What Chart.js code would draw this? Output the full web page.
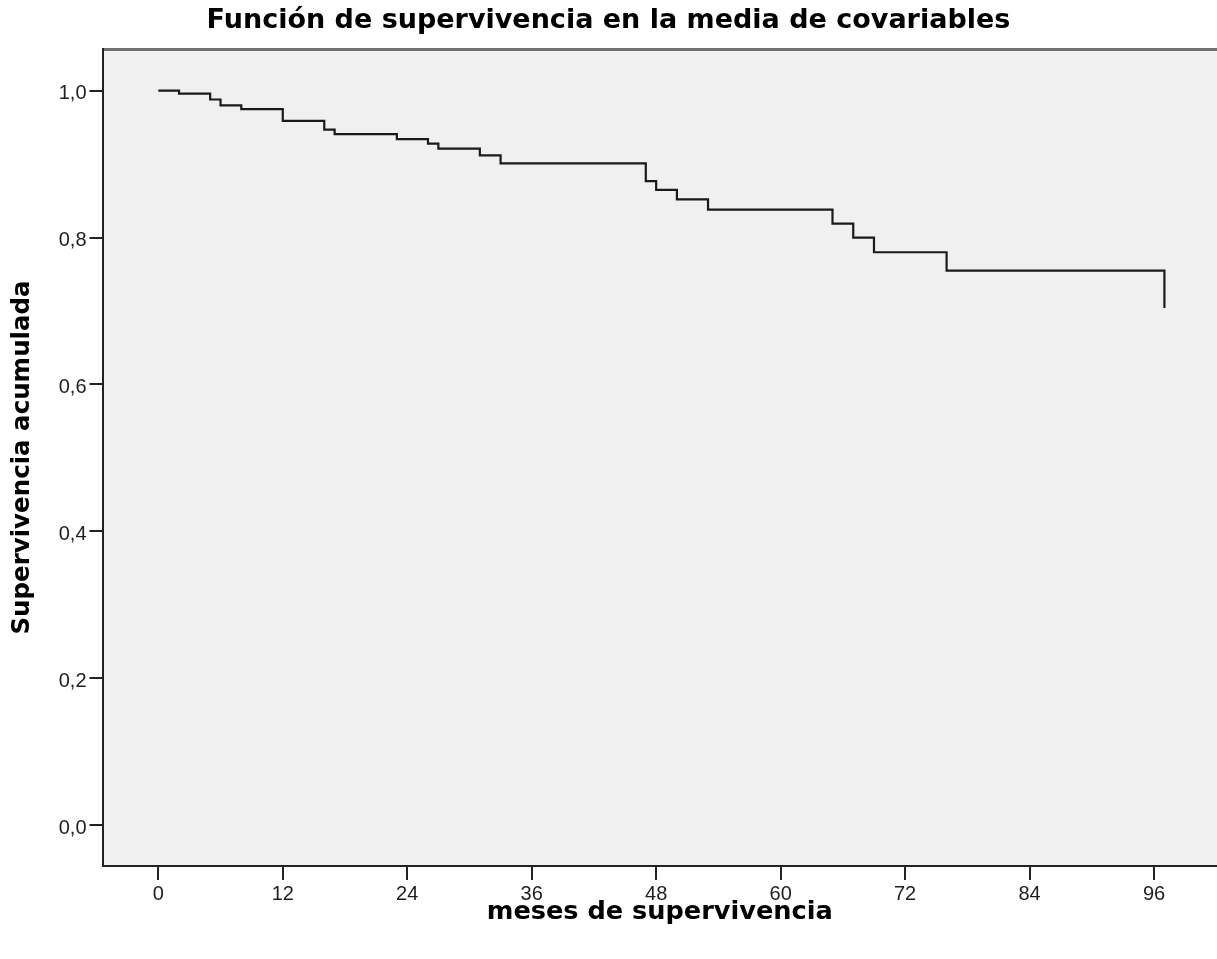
<!DOCTYPE html>
<html>
<head>
<meta charset="utf-8">
<script src="https://cdn.jsdelivr.net/npm/chart.js@4/dist/chart.umd.min.js"></script>
<style>
  html, body { margin: 0; padding: 0; background: #ffffff; }
  #wrap { width: 1217px; height: 959px; position: relative; }
</style>
</head>
<body>
<div id="wrap"><canvas id="c" width="1217" height="959"></canvas></div>
<script>
// Months at which the survival curve steps down
const months = [0, 2, 5, 6, 8, 12, 16, 17, 23, 26, 27, 31, 33, 47, 48, 50, 53, 65, 67, 69, 76, 97];
// Cumulative survival after each step
const survival = [1.000, 0.996, 0.988, 0.980, 0.975, 0.959, 0.947, 0.941, 0.934, 0.928, 0.921, 0.912, 0.901, 0.877, 0.865, 0.852, 0.838, 0.819, 0.800, 0.780, 0.755, 0.704];
const xTicks = [0, 12, 24, 36, 48, 60, 72, 84, 96];
const yTicks = [0, 0.2, 0.4, 0.6, 0.8, 1.0];

const chartTitle = 'Función de supervivencia en la media de covariables';
const xTitle = 'meses de supervivencia';
const yTitle = 'Supervivencia acumulada';

const points = months.map((m, i) => ({ x: m, y: survival[i] }));

const frame = {
  id: 'frame',
  beforeDraw(chart) {
    const { ctx, chartArea: a } = chart;
    ctx.save();
    ctx.fillStyle = '#f0f0f0';
    ctx.fillRect(a.left, a.top, a.right - a.left, a.bottom - a.top);
    ctx.strokeStyle = '#707070';
    ctx.lineWidth = 3;
    ctx.beginPath();
    ctx.moveTo(a.left, a.top + 0.5);
    ctx.lineTo(a.right, a.top + 0.5);
    ctx.stroke();
    ctx.restore();
  }
};

new Chart(document.getElementById('c'), {
  type: 'line',
  data: {
    datasets: [{
      data: points,
      stepped: 'before',
      borderColor: '#1a1a1a',
      borderWidth: 2.2,
      pointRadius: 0,
      fill: false,
      tension: 0
    }]
  },
  options: {
    responsive: false,
    animation: false,
    devicePixelRatio: 1,
    layout: { padding: { left: 0, right: 0, top: 0, bottom: 0 } },
    plugins: {
      legend: { display: false },
      tooltip: { enabled: false },
      title: {
        display: true,
        text: chartTitle,
        color: '#000000',
        font: { family: 'DejaVu Sans', size: 27, weight: 'bold', lineHeight: 1.2 },
        padding: { top: 5, bottom: 11.6 }
      }
    },
    scales: {
      x: {
        type: 'linear',
        min: -5.38,
        max: 102.07,
        afterFit(scale) { scale.height = 93; },
        afterBuildTicks(scale) { scale.ticks = xTicks.map(v => ({ value: v })); },
        grid: { drawOnChartArea: false, drawTicks: true, tickLength: 14, color: '#222222', lineWidth: 2 },
        border: { display: true, color: '#222222', width: 2 },
        ticks: {
          color: '#1e1e1e',
          padding: 2,
          font: { family: 'Liberation Sans', size: 20 },
          maxRotation: 0,
          autoSkip: false,
          callback: v => String(v)
        },
        title: {
          display: true,
          text: xTitle,
          color: '#000000',
          font: { family: 'DejaVu Sans', size: 25.6, weight: 'bold', lineHeight: 1.2 },
          padding: { top: 0, bottom: 31 }
        }
      },
      y: {
        type: 'linear',
        min: -0.0558,
        max: 1.0568,
        afterFit(scale) { scale.width = 102.5; },
        afterBuildTicks(scale) { scale.ticks = yTicks.map(v => ({ value: v })); },
        grid: { drawOnChartArea: false, drawTicks: true, tickLength: 13, color: '#222222', lineWidth: 2 },
        border: { display: true, color: '#222222', width: 2 },
        ticks: {
          color: '#1e1e1e',
          padding: 3,
          labelOffset: 3,
          font: { family: 'Liberation Sans', size: 20 },
          autoSkip: false,
          callback: v => v.toFixed(1).replace('.', ',')
        },
        title: {
          display: true,
          text: yTitle,
          color: '#000000',
          font: { family: 'DejaVu Sans', size: 24.5, weight: 'bold', lineHeight: 1.2 },
          padding: { top: 8, bottom: 0 }
        }
      }
    }
  },
  plugins: [frame]
});
</script>
</body>
</html>
